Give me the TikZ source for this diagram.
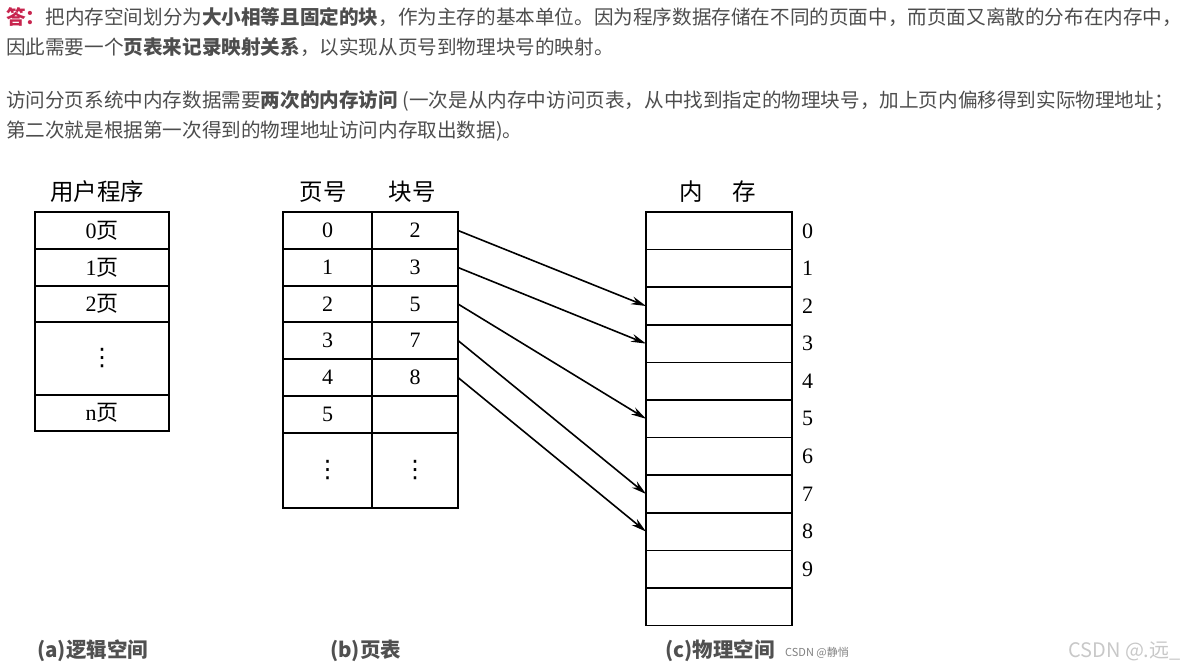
\documentclass[tikz,border=0pt]{standalone}
\usepackage{fontspec}
\setmainfont{Liberation Serif}
\newfontfamily\cjk{Noto Sans CJK SC}
\newfontfamily\symfont{DejaVu Sans}
\usepackage{xcolor}
\usetikzlibrary{arrows.meta,positioning}
\definecolor{txtgray}{HTML}{4D4D4D}
\definecolor{ansred}{HTML}{C7254E}
\definecolor{capgray}{HTML}{505050}
\definecolor{wmgray}{HTML}{C8C8C8}
\newcommand{\vdotsmark}{{\symfont\fontsize{24}{24}\selectfont ⋮}}
\tikzset{
  cell/.style={draw,line width=1.6pt,inner sep=0pt,outer sep=0pt,anchor=north west,font=\fontsize{22}{22}\selectfont},
  para/.style={anchor=base west,inner sep=0pt,text=txtgray,font=\cjk\fontsize{19.6}{19.6}\selectfont},
  head/.style={inner sep=0pt,font=\cjk\fontsize{23.5}{23.5}\selectfont},
  captext/.style={anchor=west,inner sep=0pt,text=capgray,font=\cjk\bfseries\fontsize{20.5}{20.5}\selectfont},
  maplink/.style={->,line width=1.6pt,>={Stealth[length=15pt,width=8pt]}}
}

\begin{document}
\begin{tikzpicture}[x=1pt,y=-1pt]
\useasboundingbox (0,0) rectangle (1195,671);
% explanation text
\node[para] (ans1) at (6,25) {{\bfseries\color{ansred}答：}把内存空间划分为{\bfseries 大小相等且固定的块}，作为主存的基本单位。因为程序数据存储在不同的页面中，而页面又离散的分布在内存中，};
\node[para] (ans2) at (6,55) {因此需要一个{\bfseries 页表来记录映射关系}，以实现从页号到物理块号的映射。};
\node[para] (acc1) at (6,108) {访问分页系统中内存数据需要{\bfseries 两次的内存访问} (一次是从内存中访问页表，从中找到指定的物理块号，加上页内偏移得到实际物理地址；};
\node[para] (acc2) at (6,138) {第二次就是根据第一次得到的物理地址访问内存取出数据)。};

% (a) logical space
\node[head] (user) at (97,192) {用户程序};
\node[cell,minimum width=134pt,minimum height=37pt] (u0) at (35,212) {0{\cjk 页}};
\node[cell,minimum width=134pt,minimum height=37pt] (u1) at (35,249) {1{\cjk 页}};
\node[cell,minimum width=134pt,minimum height=36pt] (u2) at (35,286) {2{\cjk 页}};
\node[cell,minimum width=134pt,minimum height=73pt] (udots) at (35,322) {\vdotsmark};
\node[cell,minimum width=134pt,minimum height=36pt] (un) at (35,395) {n{\cjk 页}};

% (b) page table
\node[head] (pagehd) at (323,192) {页号};
\node[head] (blockhd) at (412,192) {块号};
\foreach \i/\t/\h/\pg/\bk in {0/212/37/0/2,1/249/37/1/3,2/286/36/2/5,3/322/37/3/7,4/359/37/4/8,5/396/37/5/{},6/433/75/{\vdotsmark}/{\vdotsmark}}{
  \node[cell,minimum width=89pt,minimum height=\h pt] (p\i) at (283,\t) {\pg};
  \node[cell,minimum width=86pt,minimum height=\h pt] (b\i) at (372,\t) {\bk};
}

% (c) physical space
\node[head] (memhd) at (718,192) {内\hspace{30pt}存};
\foreach \i in {0,...,10}{
  \node[cell,minimum width=146pt,minimum height=37.6pt] (m\i) at (646,212+37.6*\i) {};
}
\foreach \i in {0,...,9}{
  \node[inner sep=0pt,font=\fontsize{22}{22}\selectfont,right=10pt of m\i.east] (f\i) {\i};
}

% page -> frame
\draw[maplink] (b0.east) -- (m2.west);
\draw[maplink] (b1.east) -- (m3.west);
\draw[maplink] (b2.east) -- (m5.west);
\draw[maplink] (b3.east) -- (m7.west);
\draw[maplink] (b4.east) -- (m8.west);

% captions
\node[captext] (capa) at (37,651) {(a)逻辑空间};
\node[captext] (capb) at (330,651) {(b)页表};
\node[captext] (capc) at (665,651) {(c)物理空间};
\node[anchor=west,inner sep=0pt,text=gray,font=\cjk\fontsize{11}{11}\selectfont] (src) at (785,653) {CSDN @静悄};
\node[anchor=west,inner sep=0pt,text=wmgray,font=\cjk\fontsize{20}{20}\selectfont] (wm) at (1068,651) {CSDN @.远\_};
\end{tikzpicture}
\end{document}
